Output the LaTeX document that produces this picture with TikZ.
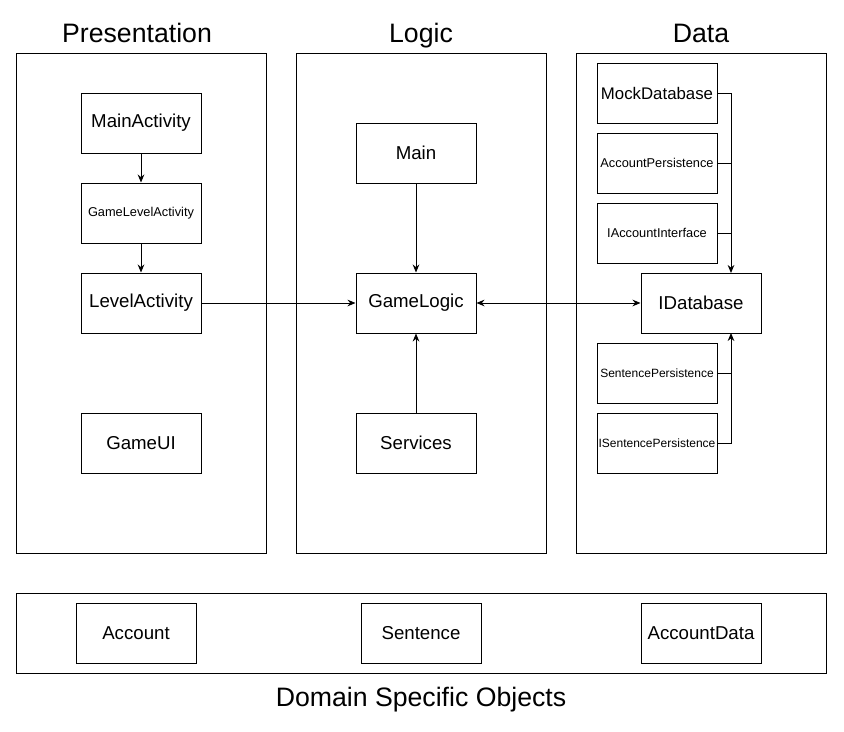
\documentclass[tikz,border=0pt]{standalone}
\usepackage{fontspec}
\setmainfont{Liberation Sans}
\usetikzlibrary{arrows.meta}

\tikzset{
    box/.style={draw, line width=0.75pt, minimum width=90pt, minimum height=45pt, inner sep=0pt, font=\fontsize{14}{15}\selectfont},
    smallbox/.style={box, font=\fontsize{9.6}{10}\selectfont},
    tinybox/.style={box, font=\fontsize{9}{10}\selectfont},
    panel/.style={draw, line width=0.75pt},
    title/.style={anchor=base, font=\fontsize{20}{22}\selectfont},
    conn/.style={line width=0.75pt, -{Stealth[length=6pt,width=5pt]}},
}

\begin{document}
\begin{tikzpicture}[x=0.75pt, y=-0.75pt]
    \useasboundingbox (0,0) rectangle (844,732);

    % Layer panels
    \draw[panel] (16,53) rectangle (266,553);
    \draw[panel] (296,53) rectangle (546,553);
    \draw[panel] (576,53) rectangle (826,553);
    \draw[panel] (16,593) rectangle (826,673);

    % Titles
    \node[title] (tpres) at (137,42) {Presentation};
    \node[title] (tlogic) at (421,42) {Logic};
    \node[title] (tdata) at (701,42) {Data};
    \node[title] (tdso) at (421,706) {Domain Specific Objects};

    % Presentation
    \node[box] (mainact) at (141,123) {MainActivity};
    \node[tinybox, font=\fontsize{9.6}{10}\selectfont] (gamelvl) at (141,213) {GameLevelActivity};
    \node[box] (lvlact) at (141,303) {LevelActivity};
    \node[box] (gameui) at (141,443) {GameUI};

    % Logic
    \node[box] (main) at (416,153) {Main};
    \node[box] (glogic) at (416,303) {GameLogic};
    \node[box] (services) at (416,443) {Services};

    % Data
    \node[box, font=\fontsize{12.6}{13}\selectfont] (mockdb) at (657,93) {MockDatabase};
    \node[smallbox] (accpers) at (657,163) {AccountPersistence};
    \node[smallbox] (iaccint) at (657,233) {IAccountInterface};
    \node[box] (idb) at (701,303) {IDatabase};
    \node[tinybox] (senpers) at (657,373) {SentencePersistence};
    \node[tinybox] (isenpers) at (657,443) {ISentencePersistence};
    \coordinate (idbtop) at (731,273);
    \coordinate (idbbot) at (731,333);

    % Domain objects
    \node[box] (account) at (136,633) {Account};
    \node[box] (sentence) at (421,633) {Sentence};
    \node[box] (accdata) at (701,633) {AccountData};

    % Connectors
    \draw[conn] (mainact) -- (gamelvl);
    \draw[conn] (gamelvl) -- (lvlact);
    \draw[conn] (lvlact) -- (glogic);
    \draw[conn] (main) -- (glogic);
    \draw[conn] (services) -- (glogic);
    \draw[conn, {Stealth[length=6pt,width=5pt]}-{Stealth[length=6pt,width=5pt]}] (glogic) -- (idb);

    \draw[conn] (mockdb.east) -| (idbtop);
    \draw[line width=0.75pt] (accpers.east) -- (accpers.east -| idbtop);
    \draw[line width=0.75pt] (iaccint.east) -- (iaccint.east -| idbtop);
    \draw[conn] (isenpers.east) -| (idbbot);
    \draw[line width=0.75pt] (senpers.east) -- (senpers.east -| idbbot);
\end{tikzpicture}
\end{document}
